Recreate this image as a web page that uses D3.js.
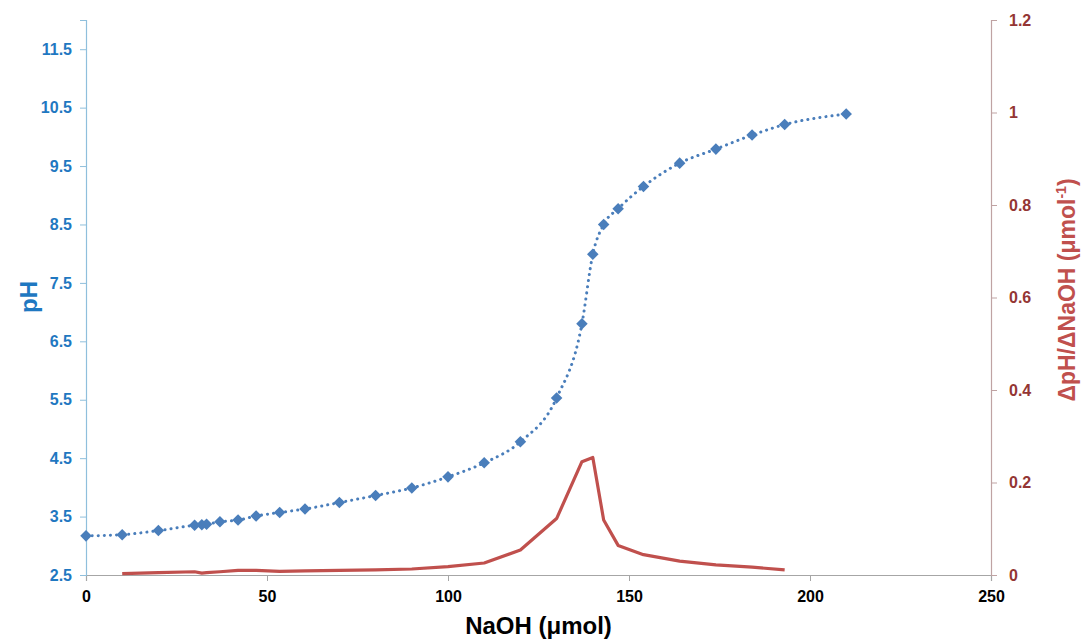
<!DOCTYPE html>
<html><head><meta charset="utf-8">
<script src="https://cdn.jsdelivr.net/npm/d3@7"></script>
<style>
body{margin:0;background:#fff;}
text{font-family:"Liberation Sans",Arial,sans-serif;}
</style></head>
<body><svg id="c" width="1082" height="641"></svg>
<script>
// Titration data
const naoh = [0,10,20,30,32,33.3,37,42,47,53.5,60.5,70,80,90,100,110,120,130,137,140,143,147,154,164,174,184,193,210];
const pH   = [3.17,3.19,3.26,3.35,3.36,3.37,3.41,3.44,3.51,3.57,3.63,3.74,3.86,3.99,4.18,4.42,4.78,5.53,6.8,7.99,8.5,8.77,9.15,9.55,9.79,10.03,10.21,10.39];
const derivX = [10,20,30,32,33.3,37,42,47,53.5,60.5,70,80,90,100,110,120,130,137,140,143,147,154,164,174,184,193];
const derivY = [0.003,0.005,0.007,0.004,0.005,0.007,0.010,0.010,0.008,0.009,0.010,0.011,0.013,0.018,0.026,0.054,0.122,0.245,0.254,0.119,0.064,0.044,0.030,0.022,0.017,0.011];
const xTicks = [0,50,100,150,200,250];
const pHTicks = [2.5,3.5,4.5,5.5,6.5,7.5,8.5,9.5,10.5,11.5];
const dTicks = [0,0.2,0.4,0.6,0.8,1,1.2];

const svg = d3.select("#c");
const L=86, R=991, T=20, B=575;
const x = d3.scaleLinear().domain([0,250]).range([L,R]);
const yL = d3.scaleLinear().domain([2.5,12]).range([B,T]);
const yR = d3.scaleLinear().domain([0,1.2]).range([B,T]);

// bottom axis
const gx = svg.append("g").attr("transform",`translate(0,${B})`)
  .call(d3.axisBottom(x).tickValues(xTicks).tickSize(6).tickPadding(10).tickFormat(d3.format("d")));
gx.select(".domain").attr("stroke","#a6a6a6").attr("stroke-width",1.2);
gx.selectAll(".tick line").attr("stroke","#a6a6a6");
gx.selectAll("text").attr("font-size",16).attr("font-weight","bold").attr("fill","#000");

// left axis
const gl = svg.append("g").attr("transform",`translate(${L},0)`)
  .call(d3.axisLeft(yL).tickValues(pHTicks).tickSize(6).tickPadding(8).tickFormat(d3.format(".1f")));
gl.select(".domain").attr("stroke","#8fbfdc").attr("stroke-width",1.2);
gl.selectAll(".tick line").attr("stroke","#8fbfdc");
gl.selectAll("text").attr("font-size",16).attr("font-weight","bold").attr("fill","#1f78c1");

// right axis
const gr = svg.append("g").attr("transform",`translate(${R},0)`)
  .call(d3.axisRight(yR).tickValues(dTicks).tickSize(6).tickPadding(12).tickFormat(d=>d3.format("")(d)));
gr.select(".domain").attr("stroke","#bfa3a3").attr("stroke-width",1.2);
gr.selectAll(".tick line").attr("stroke","#bfa3a3");
gr.selectAll("text").attr("font-size",16).attr("font-weight","bold").attr("fill","#943634");

// titles
svg.append("text").attr("x",(L+R)/2).attr("y",634).attr("text-anchor","middle")
  .attr("font-size",24).attr("font-weight","bold").attr("fill","#000").text("NaOH (μmol)");
svg.append("text").attr("transform",`translate(37,297) rotate(-90)`).attr("text-anchor","middle")
  .attr("font-size",24).attr("font-weight","bold").attr("fill","#1f78c1").text("pH");
const rt = svg.append("text").attr("transform",`translate(1075,290) rotate(-90)`).attr("text-anchor","middle")
  .attr("font-size",23).attr("font-weight","bold").attr("fill","#c0504d");
rt.append("tspan").text("ΔpH/ΔNaOH (μmol");
rt.append("tspan").attr("font-size",14).attr("dy",-9).text("-1");
rt.append("tspan").attr("dy",9).text(")");

// derivative line
const dData = derivX.map((v,i)=>[v,derivY[i]]);
svg.append("path").datum(dData).attr("fill","none").attr("stroke","#c0504d").attr("stroke-width",3.2)
  .attr("stroke-linejoin","round")
  .attr("d", d3.line().x(d=>x(d[0])).y(d=>yR(d[1])));

// pH line (dotted, smoothed)
const pData = naoh.map((v,i)=>[v,pH[i]]);
svg.append("path").datum(pData).attr("fill","none").attr("stroke","#4a7ebb").attr("stroke-width",3)
  .attr("stroke-linecap","round").attr("stroke-dasharray","0.1 6")
  .attr("d", d3.line().curve(d3.curveMonotoneX).x(d=>x(d[0])).y(d=>yL(d[1])));
svg.append("g").selectAll("path").data(pData).join("path")
  .attr("transform",d=>`translate(${x(d[0])},${yL(d[1])})`)
  .attr("d", d3.symbol().type(d3.symbolDiamond2).size(85))
  .attr("fill","#4a7ebb");
</script></body></html>
